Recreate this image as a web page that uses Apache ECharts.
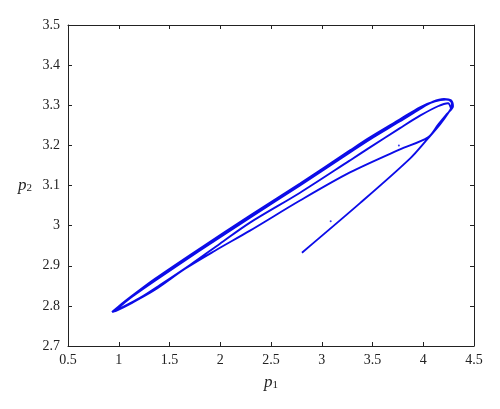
<!DOCTYPE html>
<html>
<head>
<meta charset="utf-8">
<script src="https://cdn.jsdelivr.net/npm/echarts@6/dist/echarts.min.js"></script>
<style>html,body{margin:0;padding:0;background:#fff;}#c{width:500px;height:409px;}</style>
</head>
<body>
<div id="c"></div>
<script>
// Trajectory segments, [p1, p2]
var tailUp = [[2.805,2.9325],[3.377,3.056],[3.869,3.167],[4.047,3.2175],[4.165,3.2525],[4.244,3.28],[4.283,3.30],[4.273,3.31],[4.224,3.314]];
var upperA = [[4.116,3.31],[3.968,3.295],[3.771,3.265],[3.475,3.22],[3.278,3.1875],[2.786,3.105],[2.293,3.025],[1.781,2.94],[1.357,2.8675],[1.131,2.825],[0.993,2.7975],[0.934,2.785]];
var lowerBranch = [[0.973,2.7875],[1.131,2.8075],[1.357,2.84],[1.653,2.8925],[1.948,2.9375],[2.293,2.9875],[2.786,3.0625],[3.278,3.1325],[3.771,3.19],[4.047,3.22]];
var tailReturn = [[4.145,3.251],[4.234,3.2785],[4.293,3.2975],[4.273,3.3125],[4.204,3.316]];
var upperB = [[4.096,3.309],[3.968,3.291],[3.771,3.26],[3.475,3.215],[3.278,3.1825],[2.786,3.10],[2.293,3.02],[1.781,2.935],[1.357,2.8625],[1.131,2.8225],[0.993,2.795],[0.943,2.785]];
var middleBranch = [[1.012,2.7935],[1.209,2.820],[1.406,2.852],[1.702,2.902],[1.997,2.955],[2.293,3.0075],[2.786,3.082],[3.278,3.1625],[3.475,3.195],[3.771,3.243],[3.968,3.274],[4.145,3.2975],[4.244,3.305],[4.273,3.2925]];
var strayDots = [[3.088,3.011],[3.76,3.20]];
var xTicks = [0.5,1,1.5,2,2.5,3,3.5,4,4.5];
var yTicks = [2.7,2.8,2.9,3,3.1,3.2,3.3,3.4,3.5];

var trajectory = [].concat(tailUp, upperA, lowerBranch, tailReturn, upperB, middleBranch);
var blue = '#0c0ce8';
var axisColor = '#222';
var fontFam = '"Liberation Serif","DejaVu Serif",serif';

function fmt(v){ return String(Math.round(v*10)/10); }

var chart = echarts.init(document.getElementById('c'), null, {renderer:'canvas'});
var baseX = {type:'value', min:xTicks[0], max:xTicks[xTicks.length-1], interval:0.5,
  axisLine:{show:true,onZero:false,lineStyle:{color:axisColor,width:1}},
  axisTick:{show:true,inside:true,length:4,lineStyle:{color:axisColor}},
  splitLine:{show:false}};
var baseY = {type:'value', min:yTicks[0], max:yTicks[yTicks.length-1], interval:0.1,
  axisLine:{show:true,onZero:false,lineStyle:{color:axisColor,width:1}},
  axisTick:{show:true,inside:true,length:4,lineStyle:{color:axisColor}},
  splitLine:{show:false}};

chart.setOption({
  animation:false,
  backgroundColor:'#fff',
  grid:{left:68,right:26,top:25,bottom:63,containLabel:false},
  xAxis:[
    Object.assign({}, baseX, {position:'bottom',
      axisLabel:{color:'#222',fontFamily:fontFam,fontSize:14,margin:7,formatter:fmt},
      name:'{i|p}{s|1}', nameLocation:'middle', nameGap:28,
      nameTextStyle:{rich:{i:{fontFamily:fontFam,fontStyle:'italic',fontSize:17,color:'#222'},s:{fontFamily:fontFam,fontSize:11,color:'#222',verticalAlign:'bottom',padding:[6,0,0,0]}}}}),
    Object.assign({}, baseX, {position:'top', axisLabel:{show:false}})
  ],
  yAxis:[
    Object.assign({}, baseY, {position:'left',
      axisLabel:{color:'#222',fontFamily:fontFam,fontSize:14,margin:8,formatter:fmt},
      name:'{i|p}{s|2}', nameLocation:'middle', nameGap:36, nameRotate:0,
      nameTextStyle:{rich:{i:{fontFamily:fontFam,fontStyle:'italic',fontSize:17,color:'#222'},s:{fontFamily:fontFam,fontSize:11,color:'#222',verticalAlign:'bottom',padding:[6,0,0,0]}}}}),
    Object.assign({}, baseY, {position:'right', axisLabel:{show:false}})
  ],
  series:[
    {type:'line', data:trajectory, showSymbol:false, smooth:0.3,
     lineStyle:{color:blue,width:1.9}, itemStyle:{color:blue}, z:3},
    {type:'scatter', data:strayDots, symbolSize:2, itemStyle:{color:blue}, z:3}
  ]
});
</script>
</body>
</html>
